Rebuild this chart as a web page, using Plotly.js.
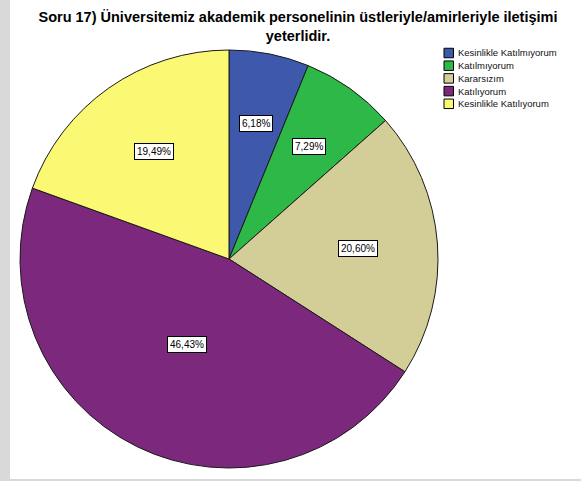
<!DOCTYPE html>
<html><head><meta charset="utf-8">
<script src="https://cdn.plot.ly/plotly-3.0.1.min.js"></script>
<style>html,body{margin:0;padding:0;background:#fff;}#chart{width:581px;height:481px;}</style>
</head><body><div id="chart"></div>
<script>
// ---- data ----
const categories = ["Kesinlikle Katılmıyorum", "Katılmıyorum", "Kararsızım", "Katılıyorum", "Kesinlikle Katılıyorum"];
const percentages = [6.18, 7.29, 20.60, 46.43, 19.49];
const colors = ["#3E58AC", "#2EB848", "#D3CE97", "#7C287D", "#FBF873"];
const titleText = "Soru 17) Üniversitemiz akademik personelinin üstleriyle/amirleriyle iletişimi<br>yeterlidir.";

// ---- layout geometry ----
const W = 581, H = 481;
const CX = 229, CY = 259, R = 209;
const FONT = "Liberation Sans, Arial, Helvetica, sans-serif";
const fmt = v => v.toFixed(2).replace('.', ',') + '%';

const total = percentages.reduce((a, b) => a + b, 0);

const trace = {
  type: 'pie',
  labels: categories,
  values: percentages,
  sort: false,
  direction: 'clockwise',
  rotation: 0,
  textinfo: 'none',
  hoverinfo: 'none',
  showlegend: false,
  marker: { colors: colors, line: { color: '#1a1a1a', width: 1 } },
  domain: { x: [(CX - R) / W, (CX + R) / W], y: [1 - (CY + R) / H, 1 - (CY - R) / H] }
};

// slice label boxes placed at sector centroids computed from the values
const annotations = [];
let cum = 0;
percentages.forEach((v, i) => {
  const frac = v / total;
  const mid = (cum + frac / 2) * 2 * Math.PI;
  const a = frac * Math.PI; // half angle
  const d = (2 / 3) * R * Math.sin(a) / a;
  cum += frac;
  const px = CX + d * Math.sin(mid);
  const py = CY - d * Math.cos(mid);
  annotations.push({
    xref: 'paper', yref: 'paper', x: px / W, y: 1 - py / H,
    text: fmt(v), showarrow: false,
    font: { family: FONT, size: 10, color: '#000' },
    bgcolor: '#ffffff', bordercolor: '#000000', borderwidth: 1, borderpad: 2,
    xanchor: 'center', yanchor: 'middle'
  });
});

// custom legend
const shapes = [];
const LX = 444, LY0 = 53, LSTEP = 12.7, SQ = 9.5;
categories.forEach((c, i) => {
  const yc = LY0 + i * LSTEP;
  shapes.push({
    type: 'rect', xref: 'paper', yref: 'paper',
    x0: LX / W, x1: (LX + SQ) / W, y0: 1 - (yc + SQ / 2) / H, y1: 1 - (yc - SQ / 2) / H,
    fillcolor: colors[i], line: { color: '#000', width: 1 }
  });
  annotations.push({
    xref: 'paper', yref: 'paper', x: (LX + SQ + 2.5) / W, y: 1 - yc / H,
    text: c, showarrow: false, xanchor: 'left', yanchor: 'middle',
    font: { family: FONT, size: 9.5, color: '#111' }
  });
});

// grey frame strips (left and bottom)
shapes.push({ type: 'rect', xref: 'paper', yref: 'paper', x0: 0, x1: 10 / W, y0: 0, y1: 1,
  fillcolor: '#d9d9d9', line: { width: 0 }, layer: 'below' });
shapes.push({ type: 'rect', xref: 'paper', yref: 'paper', x0: 0, x1: 1, y0: 0, y1: 2 / H,
  fillcolor: '#d9d9d9', line: { width: 0 }, layer: 'below' });

const layout = {
  width: W, height: H,
  margin: { l: 0, r: 0, t: 0, b: 0, pad: 0 },
  paper_bgcolor: '#ffffff',
  title: {
    text: titleText,
    font: { family: FONT, size: 14.5, color: '#000', weight: 'bold' },
    x: 298 / W, xanchor: 'center', xref: 'paper',
    y: 1 - 22 / H, yanchor: 'top', yref: 'container'
  },
  showlegend: false,
  annotations: annotations,
  shapes: shapes
};

Plotly.newPlot('chart', [trace], layout, { displayModeBar: false, staticPlot: true });
</script>
</body></html>
